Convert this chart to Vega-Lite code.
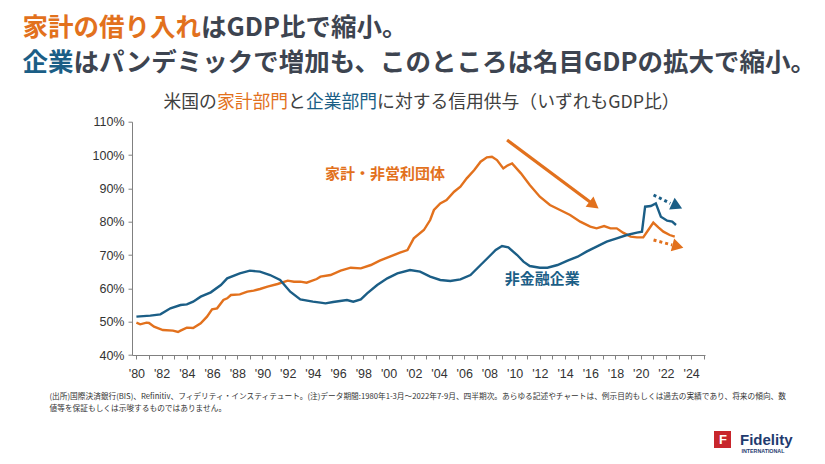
{
  "$schema": "https://vega.github.io/schema/vega-lite/v6.json",
  "width": 573,
  "height": 233.3,
  "autosize": {"type": "none"},
  "padding": {"left": 132, "top": 121.7, "right": 120, "bottom": 109},
  "background": "white",
  "config": {"view": {"stroke": null}},
  "datasets": {
    "household": [
      {"year": 1980.0, "value": 49.7}, {"year": 1980.3, "value": 49.2}, {"year": 1980.8, "value": 49.7},
      {"year": 1981.0, "value": 49.6}, {"year": 1981.4, "value": 48.5}, {"year": 1982.1, "value": 47.5},
      {"year": 1982.9, "value": 47.3}, {"year": 1983.3, "value": 46.9}, {"year": 1983.5, "value": 47.3},
      {"year": 1984.0, "value": 48.2}, {"year": 1984.5, "value": 48.1}, {"year": 1985.1, "value": 49.5},
      {"year": 1985.6, "value": 51.5}, {"year": 1986.0, "value": 53.7}, {"year": 1986.4, "value": 54.0},
      {"year": 1986.9, "value": 56.5}, {"year": 1987.2, "value": 57.0}, {"year": 1987.5, "value": 58.0},
      {"year": 1988.2, "value": 58.2}, {"year": 1988.8, "value": 59.0}, {"year": 1989.3, "value": 59.3},
      {"year": 1989.8, "value": 59.8}, {"year": 1990.4, "value": 60.5}, {"year": 1991.2, "value": 61.3},
      {"year": 1992.0, "value": 62.3}, {"year": 1992.5, "value": 62.0}, {"year": 1993.0, "value": 62.0},
      {"year": 1993.5, "value": 61.7}, {"year": 1994.3, "value": 62.8}, {"year": 1994.6, "value": 63.5},
      {"year": 1995.4, "value": 64.0}, {"year": 1996.2, "value": 65.3}, {"year": 1997.0, "value": 66.2},
      {"year": 1997.8, "value": 66.0}, {"year": 1998.6, "value": 67.0}, {"year": 1999.3, "value": 68.3},
      {"year": 2000.1, "value": 69.5}, {"year": 2000.9, "value": 70.7}, {"year": 2001.5, "value": 71.5},
      {"year": 2002.0, "value": 75.0}, {"year": 2002.8, "value": 77.5}, {"year": 2003.3, "value": 80.5},
      {"year": 2003.6, "value": 83.5}, {"year": 2004.1, "value": 85.5}, {"year": 2004.6, "value": 86.5},
      {"year": 2005.2, "value": 89.0}, {"year": 2005.7, "value": 90.5}, {"year": 2006.2, "value": 93.0},
      {"year": 2006.8, "value": 95.5}, {"year": 2007.3, "value": 98.0}, {"year": 2007.8, "value": 99.3},
      {"year": 2008.2, "value": 99.5}, {"year": 2008.6, "value": 98.5}, {"year": 2009.1, "value": 96.0},
      {"year": 2009.4, "value": 96.8}, {"year": 2009.8, "value": 97.5}, {"year": 2010.5, "value": 94.5},
      {"year": 2011.2, "value": 91.0}, {"year": 2012.0, "value": 87.5}, {"year": 2012.8, "value": 85.0},
      {"year": 2013.6, "value": 83.5}, {"year": 2014.4, "value": 82.0}, {"year": 2015.2, "value": 80.0},
      {"year": 2016.0, "value": 78.5}, {"year": 2016.5, "value": 78.0}, {"year": 2017.1, "value": 78.7},
      {"year": 2017.6, "value": 78.0}, {"year": 2018.1, "value": 78.0}, {"year": 2018.6, "value": 76.7},
      {"year": 2019.2, "value": 75.5}, {"year": 2019.7, "value": 75.3}, {"year": 2020.2, "value": 75.3},
      {"year": 2020.6, "value": 77.5}, {"year": 2021.0, "value": 79.7}, {"year": 2021.4, "value": 78.3},
      {"year": 2021.8, "value": 77.0}, {"year": 2022.3, "value": 76.0}, {"year": 2022.7, "value": 75.5}
    ],
    "corporate": [
      {"year": 1980.0, "value": 51.5}, {"year": 1981.1, "value": 51.8}, {"year": 1981.9, "value": 52.2},
      {"year": 1982.7, "value": 54.0}, {"year": 1983.5, "value": 55.0}, {"year": 1984.0, "value": 55.2},
      {"year": 1984.5, "value": 56.0}, {"year": 1985.1, "value": 57.5}, {"year": 1985.9, "value": 58.8},
      {"year": 1986.7, "value": 61.0}, {"year": 1987.2, "value": 63.0}, {"year": 1988.2, "value": 64.5},
      {"year": 1989.0, "value": 65.3}, {"year": 1989.8, "value": 65.0}, {"year": 1990.6, "value": 64.0},
      {"year": 1991.4, "value": 62.5}, {"year": 1992.2, "value": 59.0}, {"year": 1993.0, "value": 56.7},
      {"year": 1994.0, "value": 56.0}, {"year": 1994.6, "value": 55.7}, {"year": 1995.0, "value": 55.5},
      {"year": 1995.6, "value": 55.9}, {"year": 1996.7, "value": 56.5}, {"year": 1997.2, "value": 56.0},
      {"year": 1997.8, "value": 56.7}, {"year": 1998.3, "value": 58.5}, {"year": 1999.1, "value": 61.0},
      {"year": 1999.9, "value": 63.0}, {"year": 2000.7, "value": 64.5}, {"year": 2001.7, "value": 65.5},
      {"year": 2002.5, "value": 65.0}, {"year": 2003.3, "value": 63.5}, {"year": 2004.1, "value": 62.5},
      {"year": 2004.9, "value": 62.2}, {"year": 2005.7, "value": 62.7}, {"year": 2006.5, "value": 64.0},
      {"year": 2007.3, "value": 67.0}, {"year": 2008.1, "value": 70.0}, {"year": 2008.5, "value": 71.5},
      {"year": 2009.0, "value": 72.7}, {"year": 2009.5, "value": 72.3}, {"year": 2010.2, "value": 70.0},
      {"year": 2010.7, "value": 68.0}, {"year": 2011.2, "value": 66.7}, {"year": 2012.0, "value": 66.2},
      {"year": 2012.6, "value": 66.2}, {"year": 2013.4, "value": 67.0}, {"year": 2014.2, "value": 68.3},
      {"year": 2015.0, "value": 69.5}, {"year": 2015.7, "value": 71.0}, {"year": 2016.5, "value": 72.5},
      {"year": 2017.3, "value": 74.0}, {"year": 2018.1, "value": 75.0}, {"year": 2018.9, "value": 76.0},
      {"year": 2019.7, "value": 76.7}, {"year": 2020.1, "value": 77.0}, {"year": 2020.35, "value": 84.5},
      {"year": 2020.8, "value": 84.7}, {"year": 2021.2, "value": 85.5}, {"year": 2021.6, "value": 81.5},
      {"year": 2022.1, "value": 80.3}, {"year": 2022.5, "value": 80.0}, {"year": 2022.8, "value": 79.0}
    ],
    "trend": [
      {"series": "household", "year": 2009.4, "value": 104.5, "year_end": 2016.2, "value_end": 85.3}
    ],
    "trend_head": [
      {"series": "household", "year": 2016.3, "value": 85.0, "heading": 127}
    ],
    "outlook": [
      {"series": "household", "year": 2021.02, "value": 74.5, "year_end": 2022.5, "value_end": 73.0},
      {"series": "corporate", "year": 2021.02, "value": 88.0, "year_end": 2022.35, "value_end": 85.5}
    ],
    "outlook_heads": [
      {"series": "household", "year": 2022.95, "value": 72.6, "heading": 105},
      {"series": "corporate", "year": 2022.88, "value": 84.7, "heading": 115}
    ],
    "labels": [
      {"series": "household", "year": 1999.72, "value": 94.2, "text": "家計・非営利団体"},
      {"series": "corporate", "year": 2012.2, "value": 62.75, "text": "非金融企業"}
    ]
  },
  "resolve": {"axis": {"x": "independent", "y": "independent"}},
  "layer": [
    {
      "data": {"name": "household"},
      "mark": {"type": "line", "color": "#E2711D", "strokeWidth": 2.4},
      "encoding": {
        "x": {"field": "year", "type": "quantitative",
          "scale": {"domain": [1979.65, 2025.1], "nice": false, "zero": false},
          "axis": {"orient": "bottom", "values": [1980,1981,1982,1983,1984,1985,1986,1987,1988,1989,1990,1991,1992,1993,1994,1995,1996,1997,1998,1999,2000,2001,2002,2003,2004,2005,2006,2007,2008,2009,2010,2011,2012,2013,2014,2015,2016,2017,2018,2019,2020,2021,2022,2023,2024,2025],
            "labelExpr": "datum.value % 2 == 0 ? \"'\" + slice(toString(datum.value), 2) : ''",
            "labelOverlap": false, "labelFlush": false, "labelBound": false,
            "labelFont": "Liberation Sans", "labelFontSize": 12.5, "labelColor": "#333333", "labelPadding": 8,
            "grid": false, "tickSize": 4, "tickColor": "#808080", "domainColor": "#808080",
            "title": ["(出所)国際決済銀行(BIS)、Refinitiv、フィデリティ・インスティテュート。(注)データ期間:1980年1-3月～2022年7-9月、四半期次。あらゆる記述やチャートは、例示目的もしくは過去の実績であり、将来の傾向、数", "値等を保証もしくは示唆するものではありません。"],
            "titleX": -83, "titleY": 43, "titleAngle": 0, "titleAlign": "left", "titleBaseline": "alphabetic",
            "titleFont": "Noto Sans CJK JP", "titleFontSize": 7.7, "titleFontWeight": "normal", "titleColor": "#333333",
            "titleLineHeight": 12, "titleLimit": 2000}},
        "y": {"field": "value", "type": "quantitative",
          "scale": {"domain": [40, 110], "nice": false, "zero": false},
          "axis": {"orient": "left", "values": [40, 50, 60, 70, 80, 90, 100, 110],
            "labelExpr": "datum.value + '%'",
            "labelFont": "Liberation Sans", "labelFontSize": 12.5, "labelColor": "#333333", "labelPadding": 4,
            "grid": false, "tickSize": 4, "tickColor": "#808080", "domainColor": "#808080",
            "title": "はGDP比で縮小。",
            "titleX": 68.5, "titleY": -86.7, "titleAngle": 0, "titleAlign": "left", "titleBaseline": "alphabetic",
            "titleFont": "Noto Sans CJK JP", "titleFontSize": 25.5, "titleFontWeight": "bold", "titleColor": "#3D4450", "titleLimit": 2000}}
      }
    },
    {
      "data": {"name": "corporate"},
      "mark": {"type": "line", "color": "#1B5E86", "strokeWidth": 2.4},
      "encoding": {
        "x": {"field": "year", "type": "quantitative",
          "scale": {"domain": [1979.65, 2025.1], "nice": false, "zero": false},
          "axis": {"orient": "top", "labels": false, "ticks": false, "domain": false, "grid": false,
            "title": "家計の借り入れ",
            "titleX": -110, "titleY": -86.7, "titleAngle": 0, "titleAlign": "left", "titleBaseline": "alphabetic",
            "titleFont": "Noto Sans CJK JP", "titleFontSize": 25.5, "titleFontWeight": "bold", "titleColor": "#E2711D", "titleLimit": 2000}},
        "y": {"field": "value", "type": "quantitative",
          "scale": {"domain": [40, 110], "nice": false, "zero": false},
          "axis": {"orient": "right", "labels": false, "ticks": false, "domain": false, "grid": false,
            "title": "企業",
            "titleX": -683, "titleY": -51.7, "titleAngle": 0, "titleAlign": "left", "titleBaseline": "alphabetic",
            "titleFont": "Noto Sans CJK JP", "titleFontSize": 25.5, "titleFontWeight": "bold", "titleColor": "#1B5E86", "titleLimit": 2000}}
      }
    },
    {
      "data": {"name": "trend"},
      "mark": {"type": "rule", "strokeWidth": 3.2, "color": "#E2711D"},
      "encoding": {
        "x": {"field": "year", "type": "quantitative",
          "scale": {"domain": [1979.65, 2025.1], "nice": false, "zero": false},
          "axis": {"orient": "top", "labels": false, "ticks": false, "domain": false, "grid": false,
            "title": "はパンデミックで増加も、このところは名目GDPの拡大で縮小。",
            "titleX": -59, "titleY": -51.7, "titleAngle": 0, "titleAlign": "left", "titleBaseline": "alphabetic",
            "titleFont": "Noto Sans CJK JP", "titleFontSize": 25.5, "titleFontWeight": "bold", "titleColor": "#3D4450", "titleLimit": 2000}},
        "y": {"field": "value", "type": "quantitative",
          "scale": {"domain": [40, 110], "nice": false, "zero": false},
          "axis": {"orient": "right", "labels": false, "ticks": false, "domain": false, "grid": false,
            "title": "米国の",
            "titleX": -542, "titleY": -14.7, "titleAngle": 0, "titleAlign": "left", "titleBaseline": "alphabetic",
            "titleFont": "Noto Sans CJK JP", "titleFontSize": 17.8, "titleFontWeight": "normal", "titleColor": "#404040", "titleLimit": 2000}},
        "x2": {"field": "year_end"},
        "y2": {"field": "value_end"}
      }
    },
    {
      "data": {"name": "outlook"},
      "mark": {"type": "rule", "strokeWidth": 3, "strokeDash": [3, 3]},
      "encoding": {
        "x": {"field": "year", "type": "quantitative",
          "scale": {"domain": [1979.65, 2025.1], "nice": false, "zero": false},
          "axis": {"orient": "top", "labels": false, "ticks": false, "domain": false, "grid": false,
            "title": "家計部門",
            "titleX": 84.4, "titleY": -14.7, "titleAngle": 0, "titleAlign": "left", "titleBaseline": "alphabetic",
            "titleFont": "Noto Sans CJK JP", "titleFontSize": 17.8, "titleFontWeight": "normal", "titleColor": "#E2711D", "titleLimit": 2000}},
        "y": {"field": "value", "type": "quantitative",
          "scale": {"domain": [40, 110], "nice": false, "zero": false},
          "axis": {"orient": "right", "labels": false, "ticks": false, "domain": false, "grid": false,
            "title": "と",
            "titleX": -417.4, "titleY": -14.7, "titleAngle": 0, "titleAlign": "left", "titleBaseline": "alphabetic",
            "titleFont": "Noto Sans CJK JP", "titleFontSize": 17.8, "titleFontWeight": "normal", "titleColor": "#404040", "titleLimit": 2000}},
        "x2": {"field": "year_end"},
        "y2": {"field": "value_end"},
        "color": {"field": "series", "type": "nominal", "legend": null,
          "scale": {"domain": ["household", "corporate"], "range": ["#E2711D", "#1B5E86"]}}
      }
    },
    {
      "data": {"name": "trend_head"},
      "mark": {"type": "point", "shape": "triangle-up", "filled": true, "size": 170, "opacity": 1, "color": "#E2711D"},
      "encoding": {
        "x": {"field": "year", "type": "quantitative",
          "scale": {"domain": [1979.65, 2025.1], "nice": false, "zero": false},
          "axis": {"orient": "top", "labels": false, "ticks": false, "domain": false, "grid": false,
            "title": "企業部門",
            "titleX": 173.4, "titleY": -14.7, "titleAngle": 0, "titleAlign": "left", "titleBaseline": "alphabetic",
            "titleFont": "Noto Sans CJK JP", "titleFontSize": 17.8, "titleFontWeight": "normal", "titleColor": "#1B5E86", "titleLimit": 2000}},
        "y": {"field": "value", "type": "quantitative",
          "scale": {"domain": [40, 110], "nice": false, "zero": false},
          "axis": {"orient": "right", "labels": false, "ticks": false, "domain": false, "grid": false,
            "title": "に対する信用供与（いずれもGDP比）",
            "titleX": -328.4, "titleY": -14.7, "titleAngle": 0, "titleAlign": "left", "titleBaseline": "alphabetic",
            "titleFont": "Noto Sans CJK JP", "titleFontSize": 17.8, "titleFontWeight": "normal", "titleColor": "#404040", "titleLimit": 2000}},
        "angle": {"field": "heading", "type": "quantitative", "scale": null}
      }
    },
    {
      "data": {"name": "outlook_heads"},
      "mark": {"type": "point", "shape": "triangle-up", "filled": true, "size": 170, "opacity": 1},
      "encoding": {
        "x": {"field": "year", "type": "quantitative",
          "scale": {"domain": [1979.65, 2025.1], "nice": false, "zero": false},
          "axis": null},
        "y": {"field": "value", "type": "quantitative",
          "scale": {"domain": [40, 110], "nice": false, "zero": false},
          "axis": {"orient": "right", "labels": false, "ticks": false, "domain": false, "grid": false, "zindex": 2,
            "title": "F",
            "titleX": 17.5, "titleY": 317.8, "titleAngle": 0, "titleAlign": "center", "titleBaseline": "middle",
            "titleFont": "Liberation Sans", "titleFontSize": 13, "titleFontWeight": "bold", "titleColor": "#FFFFFF", "titleLimit": 2000}},
        "angle": {"field": "heading", "type": "quantitative", "scale": null},
        "color": {"field": "series", "type": "nominal", "legend": null,
          "scale": {"domain": ["household", "corporate"], "range": ["#E2711D", "#1B5E86"]}}
      }
    },
    {
      "data": {"name": "labels"},
      "mark": {"type": "text", "font": "Noto Sans CJK JP", "fontSize": 15, "fontWeight": "bold", "align": "center", "baseline": "middle", "color": "#C8262C"},
      "encoding": {
        "x": {"field": "year", "type": "quantitative",
          "scale": {"domain": [1979.65, 2025.1], "nice": false, "zero": false},
          "axis": {"orient": "top", "labels": false, "ticks": false, "domain": false, "grid": false,
            "title": "INTERNATIONAL",
            "titleX": 609, "titleY": 331, "titleAngle": 0, "titleAlign": "left", "titleBaseline": "alphabetic",
            "titleFont": "Liberation Sans", "titleFontSize": 5.3, "titleFontWeight": "bold", "titleColor": "#1F3B6F", "titleLimit": 2000}},
        "y": {"field": "value", "type": "quantitative",
          "scale": {"domain": [40, 110], "nice": false, "zero": false}, "axis": null},
        "text": {"field": "text"},
        "color": {"field": "series", "type": "nominal", "legend": null,
          "scale": {"domain": ["household", "corporate"], "range": ["#E2711D", "#1B5E86"]}},
        "opacity": {"datum": "Fidelity", "type": "ordinal",
          "scale": {"domain": ["Fidelity"], "range": [1, 1]},
          "legend": {"orient": "none", "legendX": 582, "legendY": 309.3, "title": null, "padding": 0, "offset": 0,
            "symbolType": "square", "symbolSize": 289, "symbolStrokeWidth": 0, "symbolOpacity": 1, "symbolFillColor": "#C8262C",
            "labelFont": "Liberation Sans", "labelFontSize": 15, "labelFontWeight": "bold", "labelColor": "#1F3B6F", "labelOffset": 9}}
      }
    }
  ]
}
